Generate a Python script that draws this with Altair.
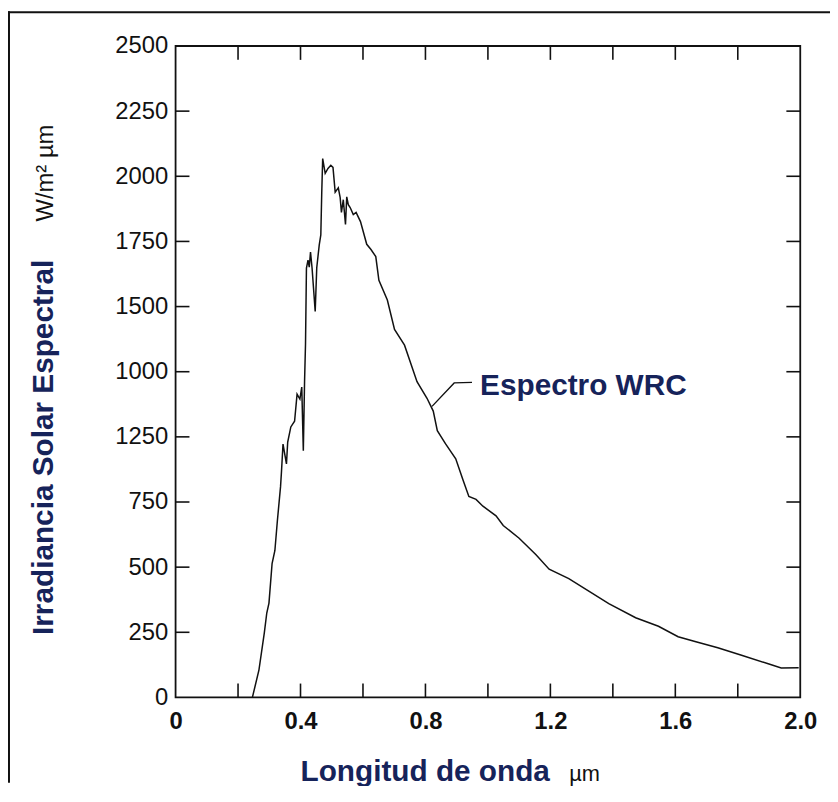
import altair as alt
import pandas as pd

# ---- data ----
wavelength = [0.246, 0.267, 0.284, 0.292, 0.299, 0.309, 0.318, 0.326, 0.336, 0.339,
              0.344, 0.355, 0.359, 0.369, 0.381, 0.389, 0.398, 0.404, 0.409, 0.413,
              0.416, 0.419, 0.424, 0.428, 0.432, 0.437, 0.447, 0.452, 0.460, 0.465,
              0.468, 0.471, 0.479, 0.488, 0.497, 0.504, 0.511, 0.521, 0.527, 0.531,
              0.537, 0.544, 0.548, 0.553, 0.559, 0.569, 0.578, 0.592, 0.612, 0.625,
              0.641, 0.651, 0.678, 0.701, 0.733, 0.773, 0.805, 0.825, 0.838, 0.864,
              0.897, 0.920, 0.939, 0.962, 0.984, 1.026, 1.049, 1.100, 1.154, 1.196,
              1.259, 1.323, 1.387, 1.473, 1.546, 1.609, 1.663, 1.736, 1.812, 1.895,
              1.939, 1.995]
irradiance = [0, 106, 247, 324, 362, 514, 564, 679, 808, 865,
              972, 896, 980, 1038, 1060, 1164, 1145, 1191, 947, 1214,
              1355, 1648, 1678, 1651, 1709, 1648, 1481, 1649, 1737, 1775,
              1938, 2068, 2011, 2030, 2042, 2034, 1939, 1956, 1918, 1861,
              1910, 1815, 1921, 1891, 1880, 1853, 1861, 1826, 1739, 1720,
              1692, 1601, 1525, 1412, 1352, 1212, 1148, 1099, 1024, 974,
              916, 835, 771, 760, 734, 697, 660, 611, 548, 492,
              456, 408, 360, 306, 273, 233, 215, 191, 162, 130,
              113, 114]

x_tick_values = [0.2, 0.4, 0.6, 0.8, 1.0, 1.2, 1.4, 1.6, 1.8]
x_label_values = [0, 0.4, 0.8, 1.2, 1.6, 2.0]
x_label_text = ["0", "0.4", "0.8", "1.2", "1.6", "2.0"]
y_tick_values = [0, 250, 500, 750, 1000, 1250, 1500, 1750, 2000, 2250, 2500]
y_label_text = ["0", "250", "500", "750", "1250", "1000", "1500", "1750", "2000", "2250", "2500"]
y_inner_ticks = [250, 500, 750, 1000, 1250, 1500, 1750, 2000, 2250]

leader_x = [0.821, 0.892, 0.949]
leader_y = [1117, 1207, 1209]
annotation_text = ["Espectro WRC"]
annotation_x = [0.975]
annotation_y = [1195]

x_title = "Longitud de onda"
x_unit = "\u00b5m"
y_title = "Irradiancia Solar Espectral"
y_unit = "W/m\u00b2  \u00b5m"

# ---- chart ----
W, H = 630, 657
TICK = 14
NAVY = "#16235a"
FONT = "Liberation Sans"


def label_expr(values, texts):
    expr = "datum.label"
    for v, t in reversed(list(zip(values, texts))):
        expr = f"(abs(datum.value - {v}) < 1e-6 ? '{t}' : {expr})"
    return expr


xscale = alt.Scale(domain=[0, 2], nice=False, zero=False)
yscale = alt.Scale(domain=[0, 2500], nice=False, zero=False)

x_axis = alt.Axis(values=x_label_values, labelExpr=label_expr(x_label_values, x_label_text),
                  title=None, ticks=False, domain=False, grid=False, labelFont=FONT,
                  labelFontSize=24, labelFontWeight="bold", labelColor="#111",
                  labelPadding=12, labelOverlap=False, labelFlush=False)
y_axis = alt.Axis(values=y_tick_values, labelExpr=label_expr(y_tick_values, y_label_text),
                  title=None, ticks=False, domain=False, grid=False, labelFont=FONT,
                  labelFontSize=24, labelColor="#111", labelPadding=8,
                  labelOverlap=False, labelFlush=False)

df = pd.DataFrame({"wl": wavelength, "irr": irradiance, "idx": range(len(wavelength))})

curve = alt.Chart(df).mark_line(color="#111", strokeWidth=1.5).encode(
    x=alt.X("wl:Q", scale=xscale, axis=x_axis),
    y=alt.Y("irr:Q", scale=yscale, axis=y_axis),
    order="idx:Q",
)

xt = pd.DataFrame({"v": x_tick_values})
yt = pd.DataFrame({"v": y_inner_ticks})
tick_style = dict(color="#111", strokeWidth=1.6)

bottom_ticks = alt.Chart(xt).mark_rule(**tick_style).encode(
    x=alt.X("v:Q", scale=xscale, axis=x_axis), y=alt.value(H), y2=alt.value(H - TICK))
top_ticks = alt.Chart(xt).mark_rule(**tick_style).encode(
    x=alt.X("v:Q", scale=xscale, axis=x_axis), y=alt.value(0), y2=alt.value(TICK))
left_ticks = alt.Chart(yt).mark_rule(**tick_style).encode(
    y=alt.Y("v:Q", scale=yscale, axis=y_axis), x=alt.value(0), x2=alt.value(TICK))
right_ticks = alt.Chart(yt).mark_rule(**tick_style).encode(
    y=alt.Y("v:Q", scale=yscale, axis=y_axis), x=alt.value(W), x2=alt.value(W - TICK))

ldf = pd.DataFrame({"lx": leader_x, "ly": leader_y, "o": range(len(leader_x))})
leader = alt.Chart(ldf).mark_line(color="#111", strokeWidth=1.4).encode(
    x=alt.X("lx:Q", scale=xscale, axis=x_axis),
    y=alt.Y("ly:Q", scale=yscale, axis=y_axis),
    order="o:Q",
)

adf = pd.DataFrame({"t": annotation_text, "ax": annotation_x, "ay": annotation_y})
annotation = alt.Chart(adf).mark_text(
    align="left", baseline="middle", font=FONT, fontSize=30, fontWeight="bold", color=NAVY
).encode(
    x=alt.X("ax:Q", scale=xscale, axis=x_axis),
    y=alt.Y("ay:Q", scale=yscale, axis=y_axis),
    text="t:N",
)

xt_title = alt.Chart(pd.DataFrame({"t": [x_title]})).mark_text(
    align="left", baseline="alphabetic", font=FONT, fontSize=30, fontWeight="bold", color=NAVY
).encode(x=alt.value(126), y=alt.value(741), text="t:N")
xt_unit = alt.Chart(pd.DataFrame({"t": [x_unit]})).mark_text(
    align="left", baseline="alphabetic", font=FONT, fontSize=22, color="#111"
).encode(x=alt.value(397), y=alt.value(741), text="t:N")

yt_title = alt.Chart(pd.DataFrame({"t": [y_title]})).mark_text(
    align="left", baseline="alphabetic", angle=270, font=FONT, fontSize=30,
    fontWeight="bold", color=NAVY
).encode(x=alt.value(-124), y=alt.value(594), text="t:N")
yt_unit = alt.Chart(pd.DataFrame({"t": [y_unit]})).mark_text(
    align="left", baseline="alphabetic", angle=270, font=FONT, fontSize=24, color="#111"
).encode(x=alt.value(-124), y=alt.value(177), text="t:N")

# outer picture border (top and left edges)
border_top = alt.Chart(pd.DataFrame({"d": [0]})).mark_rule(color="#111", strokeWidth=2).encode(
    x=alt.value(-169), x2=alt.value(661), y=alt.value(-34))
border_left = alt.Chart(pd.DataFrame({"d": [0]})).mark_rule(color="#111", strokeWidth=2).encode(
    x=alt.value(-168), y=alt.value(-35), y2=alt.value(743))

chart = alt.layer(
    curve, bottom_ticks, top_ticks, left_ticks, right_ticks, leader, annotation,
    xt_title, xt_unit, yt_title, yt_unit, border_top, border_left,
).properties(
    width=W, height=H,
    padding={"left": 169, "top": 35, "right": 30, "bottom": 86},
    autosize=alt.AutoSizeParams(type="none"),
    background="white",
).configure_view(stroke="#111", strokeWidth=1.8)

chart.save("out.html", embed_options={"renderer": "svg", "actions": False})
